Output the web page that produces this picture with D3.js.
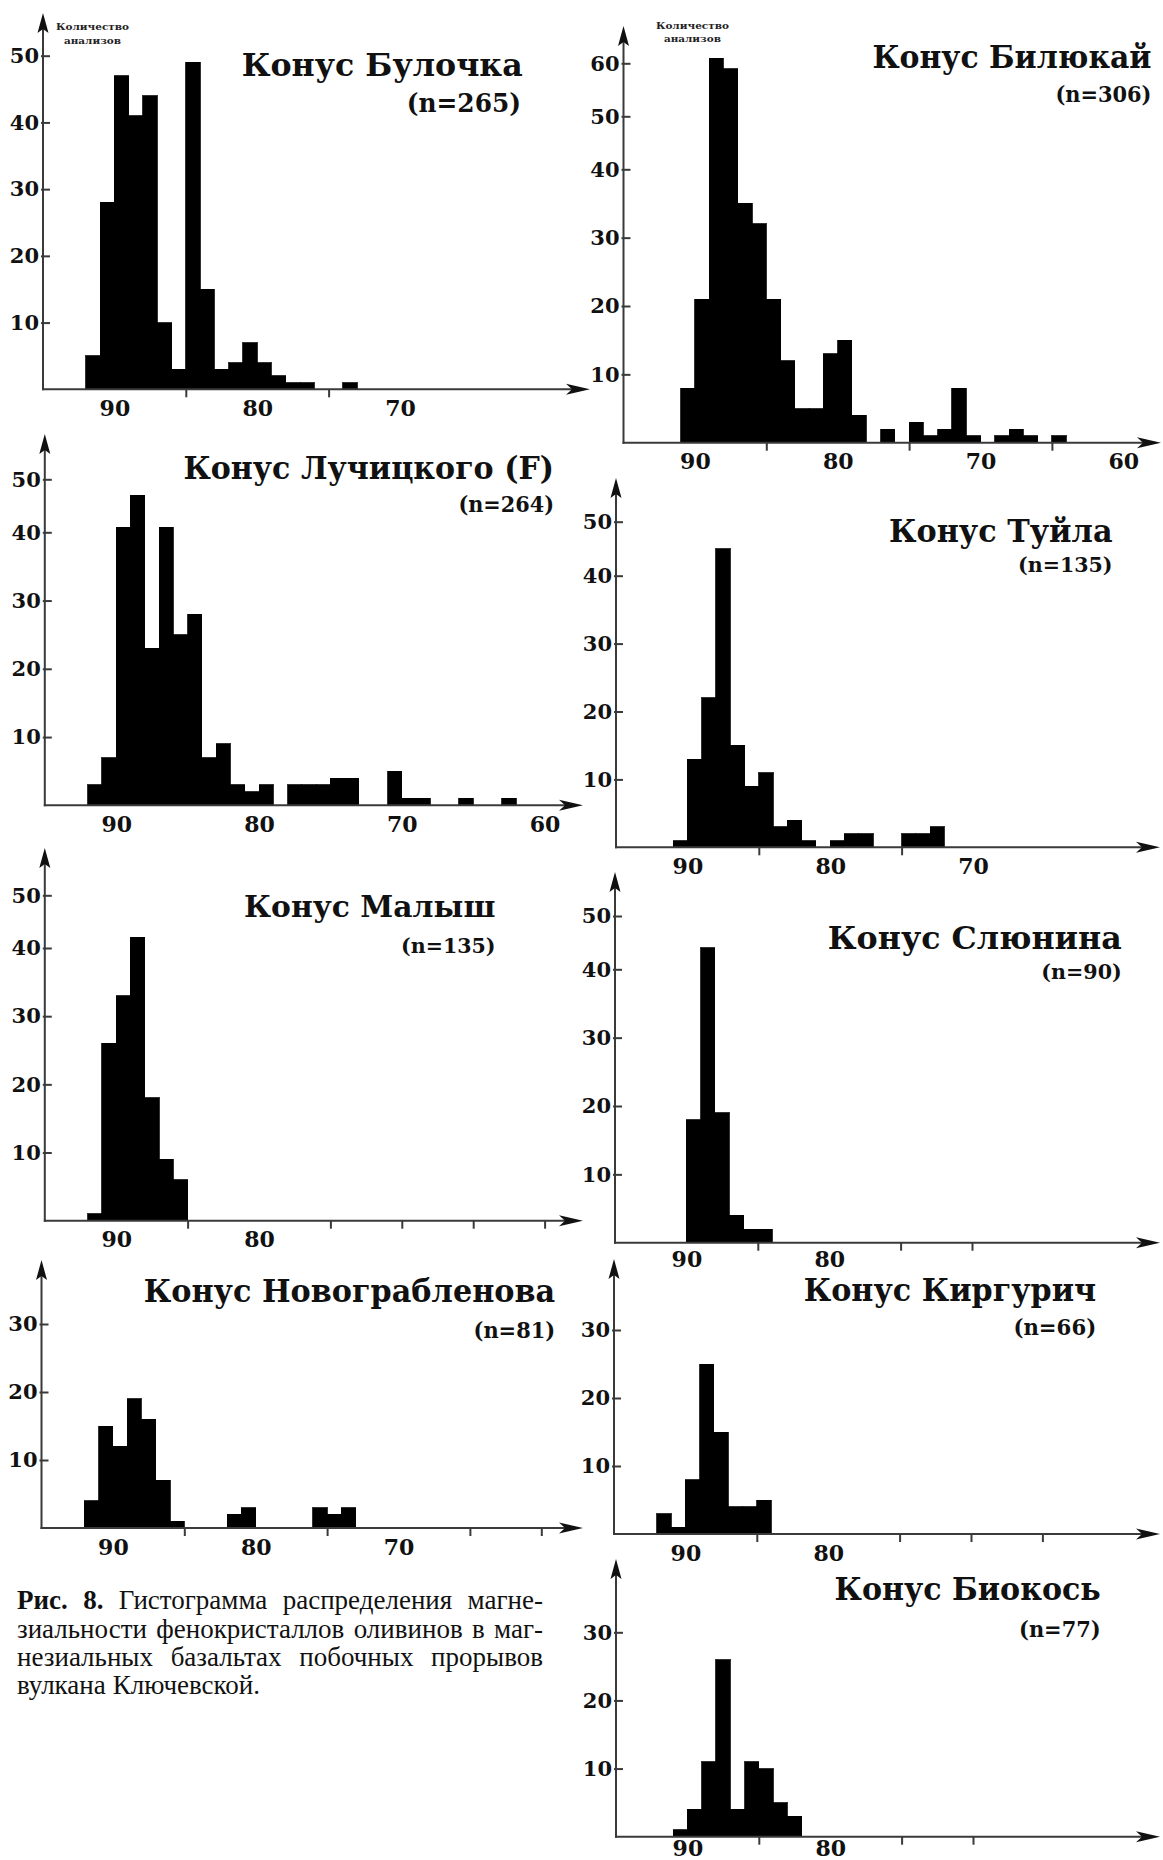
<!DOCTYPE html>
<html>
<head>
<meta charset="utf-8">
<script src="https://cdn.jsdelivr.net/npm/d3@7"></script>
<style>
  html, body { margin: 0; padding: 0; background: #fff; }
  svg { display: block; }
</style>
</head>
<body>
<svg id="fig" width="1163" height="1860"></svg>
<script>
// Histograms of olivine Fo (mol.%) per cone. Bins are 1 Fo unit wide;
// each counts list runs downward from the bin whose upper edge is *Start.
const bulochkaStart = 92;
const bulochkaCounts = [5, 28, 47, 41, 44, 10, 3, 49, 15, 3, 4, 7, 4, 2, 1, 1, 0, 0, 1];

const bilyukayStart = 91;
const bilyukayCounts = [8, 21, 61, 59, 35, 32, 21, 12, 5, 5, 13, 15, 4, 0, 2, 0, 3, 1, 2, 8, 1, 0, 1, 2, 1, 0, 1];

const luchitskyStart = 92;
const luchitskyCounts = [3, 7, 41, 47, 23, 41, 25, 28, 7, 9, 3, 2, 3, 0, 3, 3, 3, 4, 4, 0, 0, 5, 1, 1, 0, 0, 1, 0, 0, 1];

const tuylaStart = 91;
const tuylaCounts = [1, 13, 22, 45, 15, 9, 11, 3, 4, 1, 0, 1, 2, 2, 0, 0, 2, 2, 3];

const malyshStart = 92;
const malyshCounts = [1, 26, 33, 42, 18, 9, 6];

const slyuninaStart = 90;
const slyuninaCounts = [18, 44, 19, 4, 2, 2];

const novograblenovStart = 92;
const novograblenovCounts = [4, 15, 12, 19, 16, 7, 1, 0, 0, 0, 2, 3, 0, 0, 0, 0, 3, 2, 3];

const kirgurichStart = 92;
const kirgurichCounts = [3, 1, 8, 25, 15, 4, 4, 5];

const biokosStart = 91;
const biokosCounts = [1, 4, 11, 26, 4, 11, 10, 5, 3];

// Panel titles and sample sizes
const titles = ["Конус Булочка", "Конус Билюкай", "Конус Лучицкого (F)", "Конус Туйла",
                "Конус Малыш", "Конус Слюнина", "Конус Новограбленова", "Конус Киргурич", "Конус Биокось"];
const nLabels = ["(n=265)", "(n=306)", "(n=264)", "(n=135)", "(n=135)", "(n=90)", "(n=81)", "(n=66)", "(n=77)"];

// Tick labels
const yTicks50 = [10, 20, 30, 40, 50];
const yTicks60 = [10, 20, 30, 40, 50, 60];
const yTicks30 = [10, 20, 30];
const xLabels3 = [90, 80, 70];
const xLabels4 = [90, 80, 70, 60];
const xLabels2 = [90, 80];
const yAxisName = ["Количество", "анализов"];

const captionLines = [
  [["Рис.", true], ["8.", true], ["Гистограмма", false], ["распределения", false], ["магне-", false]],
  [["зиальности", false], ["фенокристаллов", false], ["оливинов", false], ["в", false], ["маг-", false]],
  [["незиальных", false], ["базальтах", false], ["побочных", false], ["прорывов", false]],
  [["вулкана", false], ["Ключевской.", false]]
];

// ---- layout of the nine panels (pixel geometry) ----
const panels = [
  { start: bulochkaStart, counts: bulochkaCounts, yTicks: yTicks50, xLabels: xLabels3, minor: [85, 75],
    ax: 43, yDomain: [0, 50], yRange: [389.3, 55.7], yTip: 13, xEnd: 590,
    title: [241.7, 522.7, 76], n: [406.7, 521, 111.7], nSize: 27, yName: [92.5, 30, 44] },
  { start: bilyukayStart, counts: bilyukayCounts, yTicks: yTicks60, xLabels: xLabels4, minor: [85, 75, 65],
    ax: 623.5, yDomain: [0, 40, 60], yRange: [442.7, 169.3, 63.3], yTip: 26, xEnd: 1161,
    title: [872.4, 1151.5, 68.3], n: [1055.4, 1151.5, 101.7], nSize: 24, yName: [692.4, 29, 42] },
  { start: luchitskyStart, counts: luchitskyCounts, yTicks: yTicks50, xLabels: xLabels4, minor: [],
    ax: 44.8, yDomain: [0, 40, 50], yRange: [805.3, 532.3, 479.3], yTip: 434, xEnd: 583,
    title: [183.4, 554, 478.7], n: [458.4, 554, 512], nSize: 24 },
  { start: tuylaStart, counts: tuylaCounts, yTicks: yTicks50, xLabels: xLabels3, minor: [85, 75],
    ax: 616, yDomain: [0, 40, 50], yRange: [847.3, 575.7, 521.7], yTip: 478, xEnd: 1160,
    title: [889, 1112.5, 541.7], n: [1018, 1112.5, 571.7], nSize: 24 },
  { start: malyshStart, counts: malyshCounts, yTicks: yTicks50, xLabels: xLabels2, minor: [85, 75, 70, 65, 60],
    ax: 44.8, yDomain: [0, 40, 50], yRange: [1220.7, 948, 895.3], yTip: 848, xEnd: 583,
    title: [244, 495.5, 917], n: [401, 495.5, 953], nSize: 24 },
  { start: slyuninaStart, counts: slyuninaCounts, yTicks: yTicks50, xLabels: xLabels2, minor: [85, 75, 70],
    ax: 615, yDomain: [0, 40, 50], yRange: [1242.7, 969.3, 916], yTip: 872, xEnd: 1160,
    title: [827.8, 1121.8, 949.3], n: [1041.3, 1121.8, 979.3], nSize: 24, xLabelY: 9 },
  { start: novograblenovStart, counts: novograblenovCounts, yTicks: yTicks30, xLabels: xLabels3, minor: [85, 75, 65, 60],
    ax: 41.5, yDomain: [0, 30], yRange: [1528, 1324], yTip: 1260, xEnd: 583,
    title: [143.7, 555.2, 1302.3], n: [473.5, 555.2, 1338], nSize: 24 },
  { start: kirgurichStart, counts: kirgurichCounts, yTicks: yTicks30, xLabels: xLabels2, minor: [85, 75, 70, 65],
    ax: 614, yDomain: [0, 30], yRange: [1534, 1330], yTip: 1259, xEnd: 1160,
    title: [803.7, 1096.2, 1300.5], n: [1013.4, 1096.2, 1335.3], nSize: 24 },
  { start: biokosStart, counts: biokosCounts, yTicks: yTicks30, xLabels: xLabels2, minor: [85, 75, 70],
    ax: 616, yDomain: [0, 30], yRange: [1836.7, 1632.3], yTip: 1559, xEnd: 1160,
    title: [834.5, 1100.7, 1600], n: [1019, 1100.7, 1636.7], nSize: 24, xLabelY: 4 }
];

const UNIT = 14.28;            // px per Fo unit on every x axis
const AXIS_COLOR = "#3a3a3a";
const FONT = "'DejaVu Serif', 'Liberation Serif', serif";

const svg = d3.select("#fig");
svg.append("rect").attr("width", 1163).attr("height", 1860).attr("fill", "#fff");

// Places a bold label in [left, right]: the font shrinks when the natural
// width is too wide, and a small remaining difference is taken up by textLength.
function fittedLabel(g, str, left, right, baseline, size) {
  const t = g.append("text").attr("x", left).attr("y", baseline)
    .style("font-family", FONT).style("font-weight", "bold").style("font-size", size + "px")
    .attr("fill", "#111").text(str);
  const target = right - left;
  const natural = t.node().getComputedTextLength();
  if (natural > target * 1.03) {
    size = size * target * 1.03 / natural;
    t.style("font-size", size.toFixed(2) + "px");
  }
  t.attr("textLength", target).attr("lengthAdjust", "spacingAndGlyphs");
  return t;
}

panels.forEach((p, i) => {
  const g = svg.append("g").attr("class", "panel");
  const x = d3.scaleLinear().domain([95, 60]).range([p.ax, p.ax + 35 * UNIT]);
  const y = d3.scaleLinear().domain(p.yDomain).range(p.yRange);
  const y0 = y(0);

  // histogram bars
  const bins = p.counts.map((c, k) => ({ hi: p.start - k, lo: p.start - k - 1, c }));
  g.append("g").attr("shape-rendering", "crispEdges").selectAll("rect")
    .data(bins.filter(d => d.c > 0))
    .join("rect")
    .attr("x", d => x(d.hi))
    .attr("width", d => x(d.lo) - x(d.hi))
    .attr("y", d => y(d.c))
    .attr("height", d => y0 - y(d.c))
    .attr("fill", "#000")
    .attr("stroke", "#000")
    .attr("stroke-width", 0.8);

  // y axis
  const yAxis = d3.axisLeft(y).tickValues(p.yTicks).tickSizeInner(-7).tickSizeOuter(0).tickPadding(4)
    .tickFormat(d3.format("d"));
  const gy = g.append("g").attr("transform", `translate(${p.ax},0)`).call(yAxis);
  gy.select(".domain").remove();
  gy.selectAll(".tick line").attr("x1", -2).attr("stroke", AXIS_COLOR).attr("stroke-width", 2);
  gy.selectAll(".tick text").attr("fill", "#111").style("font-family", FONT)
    .style("font-weight", "bold").style("font-size", "21px");

  // x axis
  const xAxis = d3.axisBottom(x).tickValues(p.xLabels.concat(p.minor)).tickSizeInner(8).tickSizeOuter(0)
    .tickFormat(d => p.xLabels.includes(d) ? String(d) : "");
  const gx = g.append("g").attr("transform", `translate(0,${y0})`).call(xAxis);
  gx.select(".domain").remove();
  gx.selectAll(".tick").filter(d => p.xLabels.includes(d)).select("line").remove();
  gx.selectAll(".tick line").attr("stroke", AXIS_COLOR).attr("stroke-width", 2);
  gx.selectAll(".tick text").attr("y", p.xLabelY != null ? p.xLabelY : 11).attr("fill", "#111")
    .style("font-family", FONT).style("font-weight", "bold").style("font-size", "22px");

  // axis lines with arrowheads
  g.append("line").attr("x1", p.ax).attr("x2", p.ax).attr("y1", y0 + 1).attr("y2", p.yTip + 10)
    .attr("stroke", AXIS_COLOR).attr("stroke-width", 2);
  g.append("line").attr("x1", p.ax - 1).attr("x2", p.xEnd - 10).attr("y1", y0).attr("y2", y0)
    .attr("stroke", AXIS_COLOR).attr("stroke-width", 2);
  g.append("path")
    .attr("d", `M${p.ax},${p.yTip} L${p.ax + 5.5},${p.yTip + 20} L${p.ax},${p.yTip + 16} L${p.ax - 5.5},${p.yTip + 20} Z`)
    .attr("fill", "#111");
  g.append("path")
    .attr("d", `M${p.xEnd},${y0} L${p.xEnd - 24},${y0 - 5.5} L${p.xEnd - 18},${y0} L${p.xEnd - 24},${y0 + 5.5} Z`)
    .attr("fill", "#111");

  // y axis name (first row of panels)
  if (p.yName) {
    yAxisName.forEach((s, k) => {
      g.append("text").attr("x", p.yName[0]).attr("y", p.yName[1 + k])
        .attr("text-anchor", "middle")
        .attr("textLength", k === 0 ? 73 : 57).attr("lengthAdjust", "spacingAndGlyphs")
        .style("font-family", FONT).style("font-weight", "bold").style("font-size", "9.5px")
        .attr("fill", "#222").text(s);
    });
  }

  // title and sample size
  fittedLabel(g, titles[i], p.title[0], p.title[1], p.title[2], 32);
  fittedLabel(g, nLabels[i], p.n[0], p.n[1], p.n[2], p.nSize);
});

// ---- figure caption, justified ----
const CAP_LEFT = 17, CAP_RIGHT = 543;
const capBaselines = [1609, 1638, 1666, 1694];
const capFont = "'Liberation Serif', 'Times New Roman', serif";
const cap = svg.append("g").attr("class", "caption");
captionLines.forEach((words, li) => {
  const els = words.map(([w, bold]) =>
    cap.append("text").attr("y", capBaselines[li]).attr("fill", "#111")
      .style("font-family", capFont).style("font-size", "27px")
      .style("font-weight", bold ? "bold" : "normal").text(w));
  const widths = els.map(e => e.node().getComputedTextLength());
  const total = d3.sum(widths);
  const last = li === captionLines.length - 1;
  const gap = last ? 7 : (CAP_RIGHT - CAP_LEFT - total) / (words.length - 1);
  let cx = CAP_LEFT;
  els.forEach((e, k) => { e.attr("x", cx); cx += widths[k] + gap; });
});
</script>
</body>
</html>
